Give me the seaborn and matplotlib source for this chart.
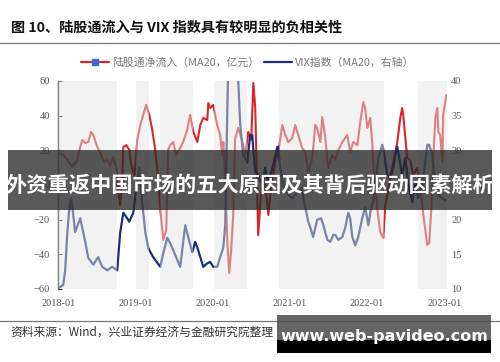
import pandas as pd
import numpy as np
import matplotlib.pyplot as plt
import matplotlib.dates as mdates
from matplotlib.lines import Line2D
from matplotlib.patches import Rectangle
import seaborn as sns

# 陆股通净流入 (MA20, 亿元) - left axis
flow_dates = ["2018-01-01", "2018-01-25", "2018-02-13", "2018-03-08", "2018-04-01", "2018-04-15", "2018-04-25",
              "2018-05-09", "2018-05-23", "2018-06-06", "2018-06-16", "2018-07-05", "2018-07-19", "2018-08-07",
              "2018-08-21", "2018-09-04", "2018-09-18", "2018-10-02", "2018-10-12", "2018-10-21", "2018-10-31",
              "2018-11-05", "2018-11-19", "2018-12-03", "2018-12-12", "2018-12-27", "2019-01-10", "2019-01-24",
              "2019-02-07", "2019-02-21", "2019-03-08", "2019-03-22", "2019-04-05", "2019-04-19", "2019-04-29",
              "2019-05-13", "2019-05-27", "2019-06-05", "2019-06-15", "2019-06-29", "2019-07-13", "2019-08-01",
              "2019-08-15", "2019-09-03", "2019-09-17", "2019-10-02", "2019-10-21", "2019-11-04", "2019-11-18",
              "2019-12-07", "2019-12-12", "2019-12-21", "2020-01-04", "2020-01-23", "2020-02-06", "2020-02-16",
              "2020-02-21", "2020-03-01", "2020-03-11", "2020-03-20", "2020-03-29", "2020-04-08", "2020-04-17",
              "2020-05-02", "2020-05-21", "2020-06-04", "2020-06-18", "2020-07-02", "2020-07-12", "2020-07-21",
              "2020-07-30", "2020-08-04", "2020-08-23", "2020-09-06", "2020-09-21", "2020-10-05", "2020-10-24",
              "2020-11-07", "2020-11-26", "2020-12-10", "2020-12-24", "2021-01-12", "2021-01-26", "2021-02-09",
              "2021-02-28", "2021-03-15", "2021-03-29", "2021-04-17", "2021-05-01", "2021-05-10", "2021-05-25",
              "2021-06-03", "2021-06-17", "2021-07-01", "2021-07-20", "2021-08-03", "2021-08-18", "2021-09-06",
              "2021-09-29", "2021-10-13", "2021-10-28", "2021-11-16", "2021-11-30", "2021-12-14", "2021-12-23",
              "2022-01-02", "2022-01-16", "2022-01-26", "2022-01-30", "2022-02-18", "2022-03-04", "2022-03-19",
              "2022-03-28", "2022-04-11", "2022-04-21", "2022-05-05", "2022-05-24", "2022-06-07", "2022-06-16",
              "2022-06-21", "2022-07-10", "2022-07-24", "2022-08-07", "2022-08-26", "2022-09-10", "2022-09-24",
              "2022-10-13", "2022-10-22", "2022-11-01", "2022-11-10", "2022-11-20", "2022-11-29", "2022-12-04",
              "2022-12-13", "2022-12-23", "2022-12-27", "2023-01-11"]
flow_values = [18.5, 17.3, 14.4, 10.4, 14.4, 21.9, 26.0,
               24.2, 24.8, 30.6, 28.9, 21.9, 18.5, 13.3,
               14.4, 11.5, 16.2, 10.4, -2.9, -11.5, 2.9,
               21.9, 23.0, 20.2, 11.5, 5.8, 26.0, 34.6,
               40.4, 46.2, 40.4, 31.7, 20.2, 2.9, -14.4,
               -31.7, -26.0, 20.2, 23.0, 24.8, 17.3, 21.3,
               24.8, 31.7, 40.4, 30.6, 24.8, 34.6, 38.7,
               37.5, 47.3, 44.4, 46.2, 34.6, 28.9, 17.3,
               24.8, 2.9, -32.9, -50.8, -37.5, -17.3, 27.1,
               32.9, 24.8, 17.3, 30.6, 26.0, 58.9, 44.4,
               -4.0, -28.9, 5.8, 0.0, -17.3, 0.0, 13.3,
               19.0, 34.6, 28.9, 24.8, 27.1, 34.6, 28.9,
               21.3, 19.0, 7.5, 15.6, 34.6, 32.9, 24.8,
               39.2, 27.7, 9.8, 17.3, 14.4, 20.2, 24.8,
               28.9, 19.0, 24.8, 23.0, 36.4, 47.9, 44.4,
               32.9, 38.7, 23.0, 11.5, -13.3, -27.1, -30.6,
               -11.5, -2.9, 5.8, 13.3, 24.8, 38.7, 44.4,
               40.4, 15.6, 14.4, 5.8, 9.8, 0.0, -17.3,
               -34.6, -33.5, -13.3, 15.6, 38.7, 44.4, 30.6,
               28.9, 13.3, 40.4, 51.9]

# VIX指数 (MA20) - right axis
vix_dates = ["2018-01-01", "2018-01-25", "2018-02-03", "2018-02-13", "2018-02-22", "2018-03-04", "2018-03-13",
             "2018-03-22", "2018-04-15", "2018-05-09", "2018-05-23", "2018-06-16", "2018-07-09", "2018-07-28",
             "2018-08-21", "2018-09-13", "2018-10-07", "2018-10-21", "2018-11-05", "2018-11-23", "2018-12-03",
             "2018-12-22", "2019-01-19", "2019-02-02", "2019-02-17", "2019-03-03", "2019-03-26", "2019-04-29",
             "2019-05-13", "2019-06-01", "2019-06-15", "2019-07-18", "2019-08-01", "2019-08-25", "2019-09-08",
             "2019-09-27", "2019-10-11", "2019-10-25", "2019-11-18", "2019-12-07", "2019-12-21", "2020-01-04",
             "2020-01-23", "2020-02-06", "2020-02-21", "2020-03-01", "2020-03-11", "2020-03-20", "2020-04-03",
             "2020-04-17", "2020-04-27", "2020-05-11", "2020-05-25", "2020-06-13", "2020-06-27", "2020-07-07",
             "2020-07-12", "2020-07-21", "2020-08-04", "2020-08-23", "2020-09-06", "2020-09-16", "2020-09-30",
             "2020-10-14", "2020-11-02", "2020-11-07", "2020-11-16", "2020-11-30", "2020-12-24", "2021-01-12",
             "2021-01-26", "2021-02-09", "2021-02-28", "2021-03-05", "2021-03-15", "2021-03-29", "2021-04-07",
             "2021-04-21", "2021-05-10", "2021-05-29", "2021-06-08", "2021-06-27", "2021-07-11", "2021-07-25",
             "2021-08-03", "2021-08-18", "2021-09-06", "2021-09-20", "2021-10-04", "2021-10-13", "2021-10-23",
             "2021-11-06", "2021-11-20", "2021-12-09", "2021-12-23", "2022-01-07", "2022-01-16", "2022-01-30",
             "2022-02-09", "2022-02-23", "2022-03-14", "2022-03-19", "2022-04-07", "2022-04-21", "2022-05-05",
             "2022-05-14", "2022-05-24", "2022-06-02", "2022-06-16", "2022-07-01", "2022-07-15", "2022-08-03",
             "2022-08-17", "2022-08-31", "2022-09-19", "2022-10-03", "2022-10-13", "2022-10-22", "2022-11-05",
             "2022-11-20", "2022-12-04", "2022-12-23", "2023-01-06"]
vix_values = [10.1, 10.6, 12.7, 18.1, 21.4, 23.1, 20.7,
              18.2, 20.2, 16.8, 14.5, 13.5, 14.6, 13.2,
              12.7, 13.2, 12.7, 18.1, 21.0, 20.2, 19.7,
              21.0, 27.5, 22.5, 18.2, 15.9, 14.6, 13.2,
              15.2, 17.4, 16.6, 14.2, 13.2, 19.2, 17.5,
              15.3, 16.8, 15.6, 13.2, 13.7, 13.9, 13.2,
              13.2, 14.6, 16.0, 19.2, 36.1, 48.0, 57.0,
              52.0, 43.0, 33.7, 29.3, 28.2, 32.2, 32.2,
              30.0, 26.9, 26.4, 25.0, 27.5, 25.7, 26.4,
              27.9, 30.5, 30.5, 27.5, 25.0, 23.6, 23.1,
              23.6, 24.0, 24.6, 23.1, 21.7, 19.7, 18.9,
              17.5, 20.0, 20.2, 19.2, 17.1, 16.8, 17.8,
              17.8, 17.1, 17.5, 18.9, 21.0, 20.2, 17.5,
              16.3, 17.5, 20.2, 21.8, 19.2, 21.0, 22.8,
              25.0, 28.9, 30.8, 30.1, 26.4, 26.0, 27.5,
              29.3, 30.5, 28.9, 26.4, 28.9, 25.0, 22.5,
              25.4, 23.1, 24.6, 28.3, 30.8, 30.8, 29.3,
              25.4, 23.6, 23.1, 22.8]

# grey highlighted periods
shade_start = ["2018-01-01", "2019-01-05", "2019-04-29", "2020-01-09", "2020-11-12", "2022-08-31"]
shade_end = ["2018-10-07", "2019-03-08", "2019-10-02", "2020-06-13", "2022-03-23", "2023-01-14"]

title = "图 10、陆股通流入与 VIX 指数具有较明显的负相关性"
source = "资料来源：Wind，兴业证券经济与金融研究院整理"
label_flow = "陆股通净流入（MA20，亿元）"
label_vix = "VIX指数（MA20，右轴）"
banner_text = "外资重返中国市场的五大原因及其背后驱动因素解析"
site_text = "www.web-pavideo.com"

df_flow = pd.DataFrame({"date": pd.to_datetime(flow_dates), "value": flow_values})
df_vix = pd.DataFrame({"date": pd.to_datetime(vix_dates), "value": vix_values})

sns.set_style("white")
plt.rcParams['font.family'] = ['Noto Sans CJK SC', 'DejaVu Sans']

red = "#d9262a"
navy = "#1d2d78"
serif = "Liberation Serif"

W, H = 500, 362
fig = plt.figure(figsize=(5, 3.62), dpi=100)
fig.patch.set_facecolor("white")

ax = fig.add_axes([58 / W, 1 - 289 / H, 389 / W, 208 / H])
ax2 = ax.twinx()

sns.lineplot(data=df_flow, x="date", y="value", ax=ax, color=red, linewidth=1.5, estimator=None)
sns.lineplot(data=df_vix, x="date", y="value", ax=ax2, color=navy, linewidth=1.6, estimator=None)

ax.set_ylim(-60, 60)
ax.set_yticks(np.arange(-60, 61, 20))
ax2.set_ylim(10, 40)
ax2.set_yticks(np.arange(10, 41, 5))
ax.set_xlim(pd.Timestamp("2017-12-31"), pd.Timestamp("2023-01-14"))
ax.xaxis.set_major_locator(mdates.YearLocator())
ax.xaxis.set_major_formatter(mdates.DateFormatter("%Y-%m"))

for a in (ax, ax2):
    a.set_xlabel("")
    a.set_ylabel("")
    for s in a.spines.values():
        s.set_visible(False)
ax.spines["left"].set_visible(True)
ax.spines["left"].set_color("#333333")
ax.spines["left"].set_linewidth(1.0)

ax.tick_params(axis="y", direction="in", length=3, width=0.8, color="#333333", pad=6,
               labelsize=7.5, labelcolor="#555555")
ax.tick_params(axis="x", length=0, pad=7, labelsize=7.5, labelcolor="#555555")
ax2.tick_params(axis="y", length=0, pad=3, labelsize=7.5, labelcolor="#555555")
for lab in ax.get_xticklabels() + ax.get_yticklabels() + ax2.get_yticklabels():
    lab.set_fontfamily(serif)

# shaded periods drawn on top so the lines look faded inside them
for s0, s1 in zip(shade_start, shade_end):
    ax2.axvspan(pd.Timestamp(s0), pd.Timestamp(s1), ymin=0, ymax=1, color="#e4e4e4", alpha=0.47,
                lw=0, zorder=5)

# legend
h1 = Line2D([], [], color=red, lw=1.6, marker="s", ms=4, mfc="#3a6bd0", mec="#3a6bd0")
h2 = Line2D([], [], color=navy, lw=1.6)
fig.legend([h1, h2], [label_flow, label_vix], loc="center", bbox_to_anchor=(248 / W, 1 - 63 / H),
           ncol=2, frameon=False, fontsize=7.8, handlelength=2.6, handletextpad=0.3,
           columnspacing=0.4, labelcolor="#777777")

# header and footer
fig.text(11 / W, 1 - 28 / H, title, fontsize=10.2, fontweight="bold", color="#111111",
         ha="left", va="center")
fig.add_artist(Line2D([0, 1], [1 - 43 / H, 1 - 43 / H], color="#777777", lw=0.9,
                      transform=fig.transFigure))
fig.add_artist(Line2D([0, 1], [1 - 321 / H, 1 - 321 / H], color="#777777", lw=0.9,
                      transform=fig.transFigure))
fig.text(10 / W, 1 - 332 / H, source, fontsize=8.5, color="#333333", ha="left", va="center")

# overlay banners
fig.add_artist(Rectangle((8 / W, 1 - 210 / H), 484 / W, 60 / H, transform=fig.transFigure,
                         facecolor="#2a2a2a", alpha=0.78, lw=0, zorder=10))
fig.text(250 / W, 1 - 185 / H, banner_text, fontsize=15.3, fontweight="bold", color="white",
         ha="center", va="center", zorder=11)
fig.add_artist(Rectangle((277 / W, 1 - 340 / H), 214 / W, 25 / H, transform=fig.transFigure,
                         facecolor="#4a4a4a", alpha=0.85, lw=0, zorder=10))
fig.add_artist(Rectangle((277 / W, 1 - 353 / H), 214 / W, 13 / H, transform=fig.transFigure,
                         facecolor="black", lw=0, zorder=10))
fig.text(384 / W, 1 - 336 / H, site_text, fontsize=11.5, fontweight="bold", color="white",
         ha="center", va="center", zorder=11, family="DejaVu Sans")

fig.savefig("out.png", dpi=100)
